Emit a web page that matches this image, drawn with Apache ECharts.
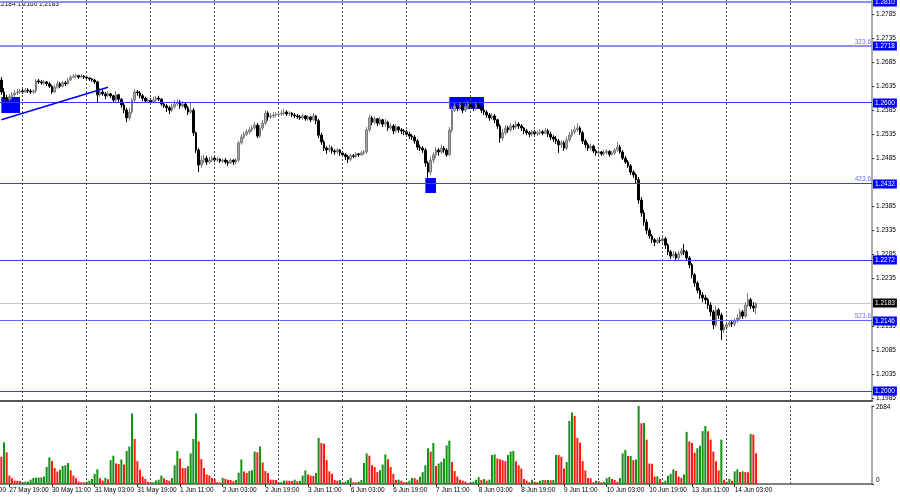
<!DOCTYPE html>
<html><head><meta charset="utf-8">
<script src="https://cdn.jsdelivr.net/npm/echarts@6/dist/echarts.min.js"></script>
<style>html,body{margin:0;padding:0;background:#fff}#c{width:900px;height:499px}</style>
</head><body><div id="c"></div>
<script>
// ---- data (H1 bars, 27 May 16:00 .. 14 Jun 11:00) ----
const firstOpen = 1.2648;
const closes = [
1.2623,1.2610,1.2608,1.2613,1.2617,1.2621,1.2623,1.2625,1.2623,1.2627,
1.2625,1.2623,1.2625,1.2646,1.2644,1.2642,1.2644,1.2640,1.2635,1.2623,
1.2633,1.2640,1.2635,1.2642,1.2640,1.2648,1.2654,1.2656,1.2657,1.2654,
1.2656,1.2654,1.2652,1.2650,1.2648,1.2644,1.2617,1.2623,1.2619,1.2615,
1.2619,1.2615,1.2606,1.2617,1.2608,1.2596,1.2585,1.2569,1.2581,1.2606,
1.2623,1.2621,1.2615,1.2610,1.2604,1.2606,1.2602,1.2606,1.2610,1.2608,
1.2598,1.2594,1.2590,1.2585,1.2592,1.2598,1.2602,1.2594,1.2598,1.2590,
1.2581,1.2585,1.2538,1.2502,1.2471,1.2481,1.2485,1.2477,1.2481,1.2485,
1.2481,1.2483,1.2479,1.2481,1.2477,1.2475,1.2481,1.2477,1.2481,1.2517,
1.2529,1.2535,1.2540,1.2544,1.2548,1.2554,1.2531,1.2548,1.2558,1.2579,
1.2571,1.2573,1.2575,1.2576,1.2577,1.2579,1.2581,1.2577,1.2579,1.2575,
1.2573,1.2571,1.2569,1.2573,1.2567,1.2571,1.2565,1.2573,1.2563,1.2533,
1.2519,1.2506,1.2502,1.2506,1.2500,1.2498,1.2502,1.2496,1.2492,1.2488,
1.2483,1.2490,1.2489,1.2494,1.2492,1.2496,1.2498,1.2544,1.2569,1.2560,
1.2567,1.2558,1.2565,1.2556,1.2560,1.2548,1.2552,1.2542,1.2550,1.2544,
1.2542,1.2540,1.2535,1.2531,1.2529,1.2521,1.2508,1.2506,1.2502,1.2475,
1.2456,1.2481,1.2492,1.2502,1.2498,1.2506,1.2502,1.2492,1.2544,1.2585,
1.2594,1.2590,1.2596,1.2585,1.2592,1.2598,1.2594,1.2590,1.2596,1.2592,
1.2585,1.2581,1.2575,1.2569,1.2573,1.2565,1.2552,1.2527,1.2538,1.2548,
1.2544,1.2552,1.2550,1.2556,1.2552,1.2548,1.2542,1.2538,1.2535,1.2540,
1.2536,1.2538,1.2540,1.2537,1.2542,1.2535,1.2529,1.2525,1.2521,1.2513,
1.2517,1.2506,1.2523,1.2533,1.2540,1.2544,1.2548,1.2538,1.2521,1.2513,
1.2506,1.2510,1.2500,1.2496,1.2498,1.2494,1.2497,1.2499,1.2493,1.2496,
1.2502,1.2508,1.2498,1.2485,1.2477,1.2469,1.2456,1.2450,1.2440,1.2398,
1.2371,1.2352,1.2335,1.2323,1.2315,1.2310,1.2314,1.2313,1.2317,1.2304,
1.2290,1.2281,1.2285,1.2277,1.2286,1.2292,1.2290,1.2277,1.2263,1.2242,
1.2225,1.2210,1.2200,1.2194,1.2190,1.2179,1.2165,1.2138,1.2169,1.2158,
1.2127,1.2133,1.2138,1.2142,1.2140,1.2146,1.2152,1.2165,1.2156,1.2179,
1.2190,1.2177,1.2173,1.2183];
const highs = [
1.2654,1.2631,1.2617,1.2619,1.2623,1.2627,1.2629,1.2629,1.2629,1.2631,
1.2631,1.2629,1.2629,1.2650,1.2650,1.2648,1.2648,1.2646,1.2644,1.2638,
1.2638,1.2646,1.2644,1.2646,1.2646,1.2652,1.2658,1.2661,1.2661,1.2659,
1.2660,1.2658,1.2656,1.2654,1.2652,1.2650,1.2646,1.2631,1.2627,1.2623,
1.2625,1.2621,1.2617,1.2625,1.2619,1.2610,1.2600,1.2590,1.2590,1.2610,
1.2629,1.2627,1.2625,1.2619,1.2613,1.2610,1.2610,1.2613,1.2615,1.2615,
1.2610,1.2602,1.2598,1.2594,1.2598,1.2606,1.2608,1.2606,1.2604,1.2600,
1.2594,1.2600,1.2590,1.2540,1.2506,1.2490,1.2492,1.2490,1.2488,1.2490,
1.2488,1.2488,1.2485,1.2485,1.2485,1.2481,1.2485,1.2483,1.2485,1.2521,
1.2535,1.2540,1.2546,1.2550,1.2554,1.2560,1.2558,1.2554,1.2565,1.2585,
1.2583,1.2579,1.2581,1.2581,1.2583,1.2585,1.2588,1.2585,1.2583,1.2581,
1.2579,1.2577,1.2575,1.2577,1.2575,1.2575,1.2573,1.2579,1.2575,1.2567,
1.2538,1.2523,1.2510,1.2513,1.2510,1.2504,1.2506,1.2504,1.2500,1.2496,
1.2492,1.2494,1.2494,1.2498,1.2496,1.2500,1.2502,1.2550,1.2575,1.2573,
1.2573,1.2569,1.2571,1.2567,1.2567,1.2563,1.2558,1.2556,1.2556,1.2552,
1.2548,1.2546,1.2544,1.2540,1.2535,1.2533,1.2525,1.2513,1.2510,1.2506,
1.2479,1.2488,1.2498,1.2508,1.2506,1.2513,1.2510,1.2506,1.2550,1.2592,
1.2602,1.2600,1.2602,1.2600,1.2598,1.2604,1.2602,1.2598,1.2602,1.2600,
1.2596,1.2590,1.2585,1.2579,1.2579,1.2577,1.2567,1.2556,1.2546,1.2554,
1.2552,1.2558,1.2556,1.2563,1.2560,1.2556,1.2550,1.2546,1.2542,1.2544,
1.2544,1.2542,1.2546,1.2544,1.2548,1.2546,1.2540,1.2533,1.2531,1.2525,
1.2523,1.2521,1.2529,1.2540,1.2546,1.2552,1.2558,1.2552,1.2542,1.2525,
1.2517,1.2515,1.2513,1.2504,1.2502,1.2500,1.2502,1.2504,1.2502,1.2500,
1.2506,1.2519,1.2513,1.2502,1.2490,1.2481,1.2473,1.2460,1.2454,1.2446,
1.2404,1.2377,1.2358,1.2340,1.2327,1.2319,1.2319,1.2321,1.2323,1.2321,
1.2308,1.2294,1.2292,1.2290,1.2292,1.2298,1.2306,1.2294,1.2281,1.2267,
1.2246,1.2229,1.2215,1.2206,1.2200,1.2194,1.2185,1.2169,1.2177,1.2173,
1.2163,1.2140,1.2144,1.2148,1.2146,1.2152,1.2160,1.2171,1.2169,1.2185,
1.2204,1.2194,1.2185,1.2184];
const lows = [
1.2617,1.2602,1.2600,1.2604,1.2608,1.2613,1.2617,1.2619,1.2619,1.2621,
1.2621,1.2619,1.2619,1.2621,1.2640,1.2638,1.2638,1.2635,1.2631,1.2619,
1.2621,1.2629,1.2631,1.2633,1.2635,1.2638,1.2646,1.2652,1.2652,1.2650,
1.2652,1.2650,1.2648,1.2646,1.2644,1.2640,1.2600,1.2613,1.2615,1.2608,
1.2613,1.2610,1.2600,1.2602,1.2600,1.2590,1.2579,1.2560,1.2563,1.2577,
1.2602,1.2615,1.2610,1.2604,1.2600,1.2600,1.2598,1.2600,1.2602,1.2604,
1.2594,1.2590,1.2581,1.2577,1.2581,1.2588,1.2594,1.2588,1.2590,1.2585,
1.2575,1.2577,1.2531,1.2496,1.2456,1.2465,1.2475,1.2471,1.2473,1.2477,
1.2477,1.2477,1.2475,1.2475,1.2473,1.2469,1.2473,1.2471,1.2473,1.2477,
1.2513,1.2525,1.2531,1.2535,1.2540,1.2544,1.2527,1.2527,1.2544,1.2554,
1.2563,1.2567,1.2569,1.2571,1.2571,1.2573,1.2575,1.2573,1.2573,1.2571,
1.2569,1.2567,1.2565,1.2565,1.2563,1.2563,1.2560,1.2563,1.2556,1.2527,
1.2513,1.2500,1.2494,1.2498,1.2494,1.2492,1.2494,1.2490,1.2488,1.2481,
1.2475,1.2479,1.2485,1.2485,1.2488,1.2490,1.2492,1.2494,1.2540,1.2554,
1.2556,1.2552,1.2554,1.2550,1.2550,1.2542,1.2544,1.2535,1.2538,1.2538,
1.2535,1.2533,1.2531,1.2525,1.2523,1.2515,1.2502,1.2500,1.2496,1.2467,
1.2425,1.2450,1.2475,1.2485,1.2490,1.2494,1.2496,1.2488,1.2490,1.2538,
1.2581,1.2583,1.2585,1.2579,1.2581,1.2588,1.2588,1.2583,1.2585,1.2588,
1.2579,1.2575,1.2569,1.2563,1.2565,1.2558,1.2546,1.2517,1.2521,1.2533,
1.2538,1.2540,1.2544,1.2546,1.2546,1.2542,1.2535,1.2533,1.2529,1.2531,
1.2531,1.2531,1.2533,1.2533,1.2535,1.2529,1.2523,1.2519,1.2515,1.2496,
1.2506,1.2500,1.2502,1.2519,1.2529,1.2535,1.2540,1.2533,1.2515,1.2506,
1.2500,1.2502,1.2496,1.2490,1.2492,1.2490,1.2490,1.2492,1.2488,1.2490,
1.2492,1.2498,1.2494,1.2481,1.2473,1.2465,1.2450,1.2444,1.2433,1.2390,
1.2363,1.2344,1.2327,1.2317,1.2308,1.2302,1.2306,1.2308,1.2308,1.2296,
1.2283,1.2275,1.2277,1.2271,1.2273,1.2281,1.2283,1.2271,1.2256,1.2235,
1.2217,1.2204,1.2192,1.2185,1.2181,1.2171,1.2156,1.2129,1.2133,1.2150,
1.2106,1.2121,1.2127,1.2133,1.2133,1.2135,1.2142,1.2148,1.2150,1.2152,
1.2175,1.2171,1.2165,1.2160];
const volumes = [
940,1440,1090,290,200,115,110,105,60,80,85,150,210,
215,220,225,260,590,915,790,550,430,490,620,645,725,
470,290,200,80,60,55,80,115,175,350,505,200,120,210,165,
820,975,705,690,845,670,1140,1290,2430,1550,
785,490,260,175,80,55,60,120,150,290,
200,140,115,210,645,1140,880,550,545,610,
1055,1550,2430,1465,855,550,330,290,210,175,
60,55,210,175,150,140,95,140,390,845,
430,375,445,470,1115,1090,1290,740,445,375,
150,145,140,60,65,120,115,110,100,150,95,
115,290,470,330,290,280,375,1585,1410,1385,820,435,350,
140,115,140,60,80,140,210,60,50,80,140,725,1055,
975,645,585,410,470,670,1020,855,585,350,140,150,115,
60,65,115,210,200,150,250,410,645,1230,1115,1410,620,705,760,880,1325,1490,760,
445,260,150,115,80,35,60,80,150,235,140,175,115,150,
1000,1020,880,855,820,785,1000,1115,1140,785,645,530,175,115,60,
150,80,60,115,140,135,140,130,140,1000,995,940,530,760,
2170,2460,2345,1585,1430,785,470,210,200,60,115,100,
58,65,200,235,175,140,80,210,1055,1175,960,965,820,845,
2684,2090,2095,1525,705,700,260,265,175,60,115,280,
350,505,445,260,210,330,1795,1465,1410,1080,1230,1315,
1820,1995,1815,1525,1115,785,470,1525,150,80,175,115,
435,505,410,435,410,405,1725,1700,1055];
const volumeBefore = 1200;
const volumeMax = 2684;
const tickLabels = ['27 May 19:00','30 May 11:00','31 May 03:00','31 May 19:00','1 Jun 11:00','2 Jun 03:00','2 Jun 19:00','3 Jun 11:00','6 Jun 03:00','6 Jun 19:00','7 Jun 11:00','8 Jun 03:00','8 Jun 19:00','9 Jun 11:00','10 Jun 03:00','10 Jun 19:00','13 Jun 11:00','14 Jun 03:00'];
const cutLabel = '27 May 03:00';
const priceTicks = [1.2785,1.2735,1.2685,1.2635,1.2585,1.2535,1.2485,1.2385,1.2335,1.2285,1.2235,1.2135,1.2085,1.2035,1.1985];
const levels = [1.2810,1.2718,1.2600,1.2432,1.2272,1.2146,1.2000];
const fibLevels = [1.2718,1.2432,1.2146];
const fibTexts = ['323.6','423.6','523.6'];
const bidPrice = 1.2183;
const headerText = '1.2178 1.2184 1.2160 1.2183';
// annotation zones: [fromBar, toBar, topPrice, bottomPrice]
const zones = [[-0.5,6.6,1.26125,1.25792],[158.9,163.4,1.24438,1.24125],[167.5,180.6,1.26125,1.25875]];
// trend line: [bar, price] -> [bar, price]
const trendLine = [[0,1.2565],[39.6,1.2633]];

// ---- layout constants ----
const SLOTS = 327, LABEL_START = 3, LABEL_STEP = 16, GRID_START = 8, GRID_STEP = 24, GRID_COUNT = 13;
const FONT = 'Liberation Sans', FS = 6.5, PLOT_W = 872;

const cats = Array.from({length: SLOTS}, (_, i) => String(i));
const ohlc = closes.map((c, i) => [i === 0 ? firstOpen : closes[i - 1], c, lows[i], highs[i]]);
const volItems = volumes.map((v, i) => ({
  value: v,
  itemStyle: {color: v > (i ? volumes[i - 1] : volumeBefore) ? '#139313' : '#ff1a1a'}
}));
const dashStyle = {color: '#4a4a4a', width: 1, type: [2, 2]};
const vLines = Array.from({length: GRID_COUNT}, (_, k) => ({xAxis: GRID_START + GRID_STEP * k, lineStyle: dashStyle, label: {show: false}}));

const levelColor = ['#8e8ef2','#8e8ef2','#3a3aff','#3a3aff','#3a3aff','#6464ff','#3a3aff'];
const levelWidth = [2,2,1,1,1,1,1];
const trend = [{coord: trendLine[0], lineStyle: {color: '#0000ff', width: 1.6, type: 'solid'}, label: {show: false}},
               {coord: trendLine[1]}];

const labelShown = (idx) => idx >= LABEL_START && (idx - LABEL_START) % LABEL_STEP === 0 &&
  (idx - LABEL_START) / LABEL_STEP < tickLabels.length;

const yMax = 1.2814583, yMin = 1.1979167;

const chart = echarts.init(document.getElementById('c'), null, {renderer: 'canvas'});
chart.setOption({
  animation: false,
  backgroundColor: '#ffffff',
  grid: [
    {left: 0, width: PLOT_W, top: 0, height: 401},
    {left: 0, width: PLOT_W, top: 406, height: 78}
  ],
  xAxis: [
    {type: 'category', gridIndex: 0, data: cats, boundaryGap: true,
     axisLine: {show: true, lineStyle: {color: '#555', width: 2}}, axisTick: {show: false},
     axisLabel: {show: false}, splitLine: {show: false}},
    {type: 'category', gridIndex: 1, data: cats, boundaryGap: true,
     axisLine: {show: true, lineStyle: {color: '#555', width: 1.5}},
     axisTick: {show: true, alignWithLabel: true, length: 3, interval: (i) => labelShown(i), lineStyle: {color: '#333'}},
     axisLabel: {show: true, interval: (i) => labelShown(i), align: 'left', margin: 3,
       fontSize: FS, fontFamily: FONT, color: '#000',
       formatter: (v) => tickLabels[(Number(v) - LABEL_START) / LABEL_STEP] || ''},
     splitLine: {show: false}}
  ],
  yAxis: [
    {type: 'value', gridIndex: 0, position: 'right', min: yMin, max: yMax, scale: true,
     axisLine: {show: true, lineStyle: {color: '#8c8c8c', width: 1.5}},
     axisTick: {show: true, length: 2, customValues: priceTicks, lineStyle: {color: '#333'}},
     axisLabel: {show: true, customValues: priceTicks, formatter: (v) => v.toFixed(4), margin: 4,
       fontSize: FS, fontFamily: FONT, color: '#000'},
     splitLine: {show: false}},
    {type: 'value', gridIndex: 1, position: 'right', min: 0, max: volumeMax,
     axisLine: {show: true, lineStyle: {color: '#8c8c8c', width: 1.5}},
     axisTick: {show: true, length: 2, customValues: [0, volumeMax], lineStyle: {color: '#333'}},
     axisLabel: {show: true, customValues: [0, volumeMax], margin: 4, fontSize: FS, fontFamily: FONT, color: '#000',
       formatter: (v) => v === 0 ? '{z|0}' : '{m|' + v + '}',
       rich: {z: {fontSize: FS, fontFamily: FONT, padding: [0, 0, 7, 0]}, m: {fontSize: FS, fontFamily: FONT, padding: [2, 0, 0, 0]}}},
     splitLine: {show: false}}
  ],
  series: [
    {type: 'candlestick', xAxisIndex: 0, yAxisIndex: 0, data: ohlc, barWidth: 2, z: 3,
     itemStyle: {color: '#a8a8a8', color0: '#000', borderColor: '#7c7c7c', borderColor0: '#000', borderWidth: 1},
     markArea: {silent: true, itemStyle: {color: '#0000ff', opacity: 1},
       data: zones.map(z => [{coord: [z[0], z[2]]}, {coord: [z[1], z[3]]}])},
     markLine: {silent: true, symbol: ['none', 'none'], data: [...vLines, trend]}
    },
    {type: 'bar', xAxisIndex: 1, yAxisIndex: 1, data: volItems, barWidth: 2,
     markLine: {silent: true, symbol: ['none', 'none'], data: vLines}}
  ]
});

// level lines (snapped to pixel rows) with price boxes, fib texts, header and clipped first time label
const py = (v) => chart.convertToPixel({yAxisIndex: 0}, v);
const crisp = (y, w) => w % 2 === 1 ? Math.round(y - 0.5) + 0.5 : Math.round(y);
const box = (y, txt, bg) => ({type: 'text', z: 10, silent: true, x: PLOT_W + 1, y: Math.round(y),
  style: {text: txt, fontSize: FS, fontFamily: FONT, fill: '#fff', backgroundColor: bg, padding: [1, 2, 0, 2],
          align: 'left', verticalAlign: 'middle', lineHeight: 8}});
const levelEls = [];
levels.forEach((lv, i) => {
  const y = crisp(py(lv), levelWidth[i]);
  levelEls.push({type: 'line', z: 4, silent: true, shape: {x1: 0, y1: y, x2: PLOT_W, y2: y},
    style: {stroke: levelColor[i], lineWidth: levelWidth[i]}});
  levelEls.push(box(py(lv), lv.toFixed(4), '#0000ff'));
});
const bidY = crisp(py(bidPrice), 1);
const x0 = chart.convertToPixel({xAxisIndex: 1}, '0');
const x1 = chart.convertToPixel({xAxisIndex: 1}, '1');
const band = x1 - x0;
const fibTextEls = fibLevels.map((lv, i) => ({
  type: 'text', x: 871, y: py(lv) - 1,
  style: {text: fibTexts[i], fontSize: FS, fontFamily: FONT, fill: '#6f6ff5', align: 'right', verticalAlign: 'bottom'}
}));
chart.setOption({
  graphic: [
    {type: 'line', z: 2, silent: true, shape: {x1: 0, y1: bidY, x2: PLOT_W, y2: bidY}, style: {stroke: '#c6c6c6', lineWidth: 1}},
    box(py(bidPrice), bidPrice.toFixed(4), '#000000'),
    ...levelEls,
    {type: 'text', left: -26, top: 1, style: {text: headerText, fontSize: FS, fontFamily: FONT, fill: '#000'}},
    {type: 'text', x: x0 + (LABEL_START - LABEL_STEP) * band, y: 487, style: {text: cutLabel, fontSize: FS, fontFamily: FONT, fill: '#000'}},
    ...fibTextEls
  ]
});
</script></body></html>
